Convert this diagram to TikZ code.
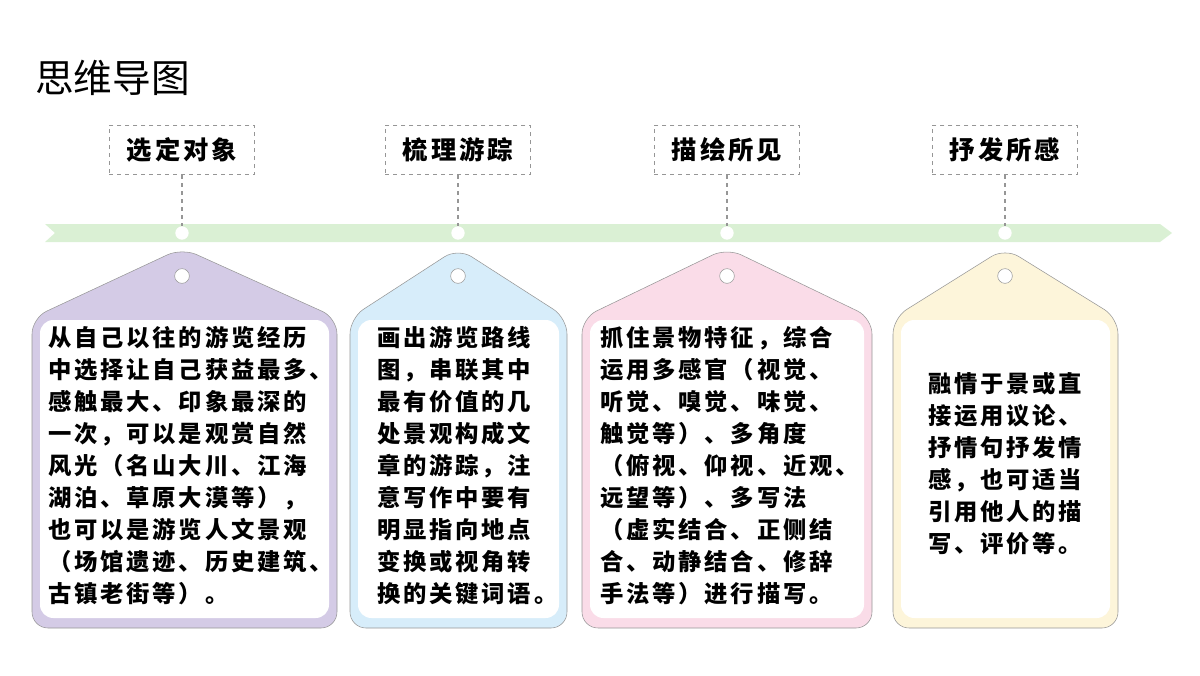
\documentclass[tikz,border=0pt]{standalone}
\usepackage{fontspec}
\setmainfont{Noto Sans CJK SC}
\newfontfamily\spaced{Noto Sans CJK SC}[LetterSpace=12]
\usetikzlibrary{positioning}
\definecolor{band}{RGB}{218,240,212}
\definecolor{lavender}{RGB}{212,203,230}
\definecolor{skyblue}{RGB}{215,237,250}
\definecolor{pinkish}{RGB}{250,220,232}
\definecolor{cream}{RGB}{253,245,218}
\definecolor{edge}{RGB}{150,150,150}
\tikzset{
  stage/.style={draw=edge, dashed, thick, minimum width=109pt, minimum height=37pt, font=\spaced\fontsize{19}{21}\selectfont\bfseries},
  stem/.style={draw=edge, dashed, thick},
  dot/.style={circle, fill=white, inner sep=0pt, minimum size=10pt},
  hole/.style={circle, fill=white, draw=edge, inner sep=0pt, minimum size=11pt},
  body/.style={align=left, anchor=north west, inner sep=0pt, font=\spaced\fontsize{17.5}{24}\selectfont\bfseries},
}
% tag: #1 left, #2 right, #3 apex x, #4 fill
\newcommand{\tagcard}[4]{
  \filldraw[draw=edge, fill=#4, rounded corners=12pt] (#1,628) -- (#1,318) -- (#3,248) -- (#2,318) -- (#2,628) -- cycle;
  \fill[white, rounded corners=10pt] (#1+8,320) rectangle (#2-8,618);
}
\begin{document}
\begin{tikzpicture}[x=0.75pt, y=-0.75pt]
\useasboundingbox (0,0) rectangle (1200,675);
\node[anchor=west, inner sep=0pt, font=\fontsize{29}{31}\selectfont] (title) at (35,78) {思维导图};
% timeline band
\fill[band] (45,224) -- (1160,224) -- (1172,233) -- (1160,242) -- (45,242) -- (55,233) -- cycle;
\foreach \x/\name/\txt in {182/s1/选定对象, 458/s2/梳理游踪, 727/s3/描绘所见, 1005/s4/抒发所感}{
  \node[stage] (\name) at (\x,150) {\txt};
  \node[dot] (d\name) at (\x,233) {};
  \draw[stem] (\name.south) -- (d\name.north);
}
% cards
\tagcard{32}{337}{182}{lavender}
\tagcard{350}{567}{458}{skyblue}
\tagcard{582}{872}{727}{pinkish}
\tagcard{893}{1118}{1005}{cream}
\foreach \x/\name in {182/h1, 458/h2, 727/h3, 1005/h4}
  \node[hole] (\name) at (\x,276) {};
\node[body] (t1) at (48,326) {从自己以往的游览经历\\中选择让自己获益最多、\\感触最大、印象最深的\\一次，可以是观赏自然\\风光（名山大川、江海\\湖泊、草原大漠等），\\也可以是游览人文景观\\（场馆遗迹、历史建筑、\\古镇老街等）。};
\node[body] (t2) at (377,326) {画出游览路线\\图，串联其中\\最有价值的几\\处景观构成文\\章的游踪，注\\意写作中要有\\明显指向地点\\变换或视角转\\换的关键词语。};
\node[body] (t3) at (600,326) {抓住景物特征，综合\\运用多感官（视觉、\\听觉、嗅觉、味觉、\\触觉等）、多角度\\（俯视、仰视、近观、\\远望等）、多写法\\（虚实结合、正侧结\\合、动静结合、修辞\\手法等）进行描写。};
\node[body] (t4) at (928,372) {融情于景或直\\接运用议论、\\抒情句抒发情\\感，也可适当\\引用他人的描\\写、评价等。};
\end{tikzpicture}
\end{document}
